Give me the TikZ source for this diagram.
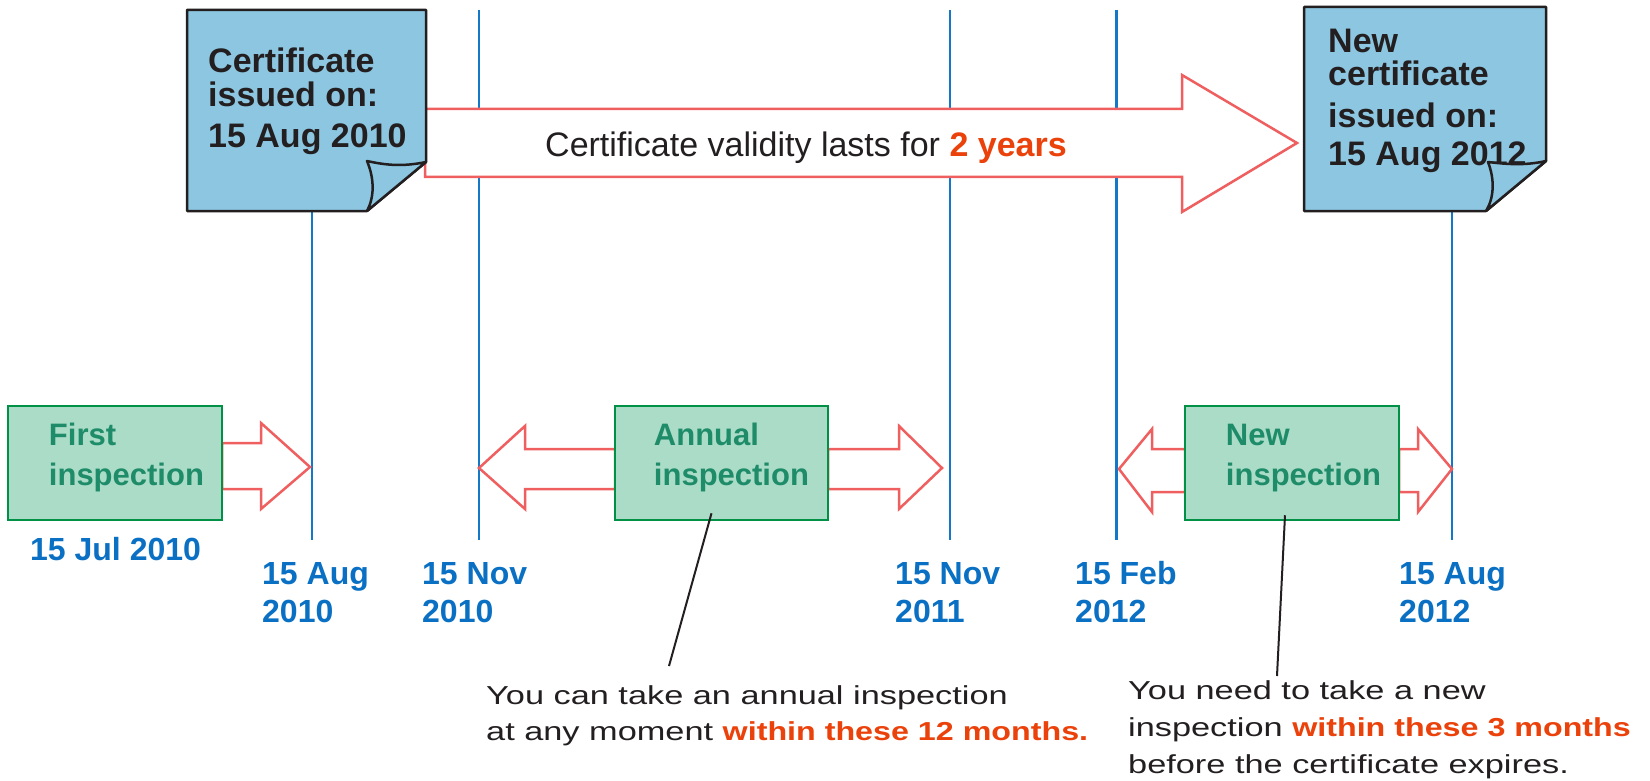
\documentclass[tikz,border=0pt]{standalone}
\usepackage{fontspec}
\usepackage{xcolor}
\usepackage{tikz}
\setmainfont{Liberation Sans}
\newfontfamily\widefont[FakeStretch=1.32]{Liberation Sans}
\newfontfamily\widebold[FakeStretch=1.24]{Liberation Sans}

\definecolor{noteblue}{RGB}{140,198,225}
\definecolor{inkblack}{RGB}{35,31,32}
\definecolor{arrowred}{RGB}{240,95,95}
\definecolor{lineblue}{RGB}{20,120,200}
\definecolor{dateblue}{RGB}{10,112,195}
\definecolor{boxgreen}{RGB}{0,145,70}
\definecolor{boxfill}{RGB}{170,220,200}
\definecolor{textgreen}{RGB}{30,140,105}
\definecolor{hotorange}{RGB}{235,65,10}

\begin{document}
\begin{tikzpicture}[x=1pt, y=-1pt,
    note/.style={draw=inkblack, line width=2.5pt, fill=noteblue, line join=round},
    blockarrow/.style={draw=arrowred, line width=2.5pt, fill=white, line join=miter},
    timeline/.style={draw=lineblue, line width=2.2pt},
    inspbox/.style={draw=boxgreen, line width=2.5pt, fill=boxfill, minimum height=114pt},
    insptext/.style={text=textgreen, font=\fontsize{31}{40}\selectfont\bfseries, align=left, anchor=base west, inner sep=0pt},
    notetext/.style={text=inkblack, font=\fontsize{34}{34}\selectfont\bfseries, align=left, anchor=base west, inner sep=0pt},
    datelabel/.style={text=dateblue, font=\fontsize{32}{38}\selectfont\bfseries, align=left, anchor=base west, inner sep=0pt},
    remark/.style={text=inkblack, font=\widefont\fontsize{26}{36}\selectfont, align=left, anchor=base west, inner sep=0pt},
    pointer/.style={draw=inkblack, line width=2pt}]
    \useasboundingbox (0,0) rectangle (1650,781);

    % Time lines
    \draw[timeline] (312,211) -- (312,540);
    \draw[timeline] (479,10) -- (479,540);
    \draw[timeline] (950,10) -- (950,540);
    \draw[timeline] (1116.5,10) -- (1116.5,540);
    \draw[timeline] (1452,211) -- (1452,540);

    % Validity arrow
    \draw[blockarrow] (425,109) -- (1182,109) -- (1182,75) -- (1297,143) -- (1182,212) -- (1182,177) -- (425,177) -- cycle;
    \node[text=inkblack, font=\fontsize{34}{40}\selectfont, anchor=base west, inner sep=0pt] (validity) at (545,157)
        {Certificate validity lasts for \textcolor{hotorange}{\bfseries 2 years}};

    % Old certificate note
    \draw[note] (187,10) -- (426,10) -- (426,162) -- (367,211) -- (187,211) -- cycle;
    \node[notetext] (oldcert) at (208,148) {Certificate\\issued on:\\[7pt]15 Aug 2010};
    \draw[note] (426,162) .. controls (402,167) and (385,165) .. (367,161) .. controls (375,180) and (374,198) .. (367,211) -- cycle;

    % New certificate note
    \draw[note] (1304,7) -- (1546,7) -- (1546,161) -- (1486,211) -- (1304,211) -- cycle;
    \node[notetext, font=\fontsize{34}{33}\selectfont\bfseries] (newcert) at (1328,165) {New\\certificate\\[10pt]issued on:\\[4pt]15 Aug 2012};
    \draw[note] (1546,161) .. controls (1524,166) and (1505,164) .. (1488,162) .. controls (1495,180) and (1494,198) .. (1486,211) -- cycle;

    % Inspection arrows
    \draw[blockarrow] (222,443) -- (261,443) -- (261,423) -- (310,467) -- (261,509) -- (261,489) -- (222,489) -- cycle;
    \draw[blockarrow] (615,449) -- (525,449) -- (525,426) -- (479,468) -- (525,509) -- (525,489) -- (615,489) -- cycle;
    \draw[blockarrow] (828,449) -- (899,449) -- (899,426) -- (942,468) -- (899,509) -- (899,489) -- (828,489) -- cycle;
    \draw[blockarrow] (1185,449) -- (1152,449) -- (1152,429) -- (1119,469) -- (1152,512) -- (1152,492) -- (1185,492) -- cycle;
    \draw[blockarrow] (1399,449) -- (1418,449) -- (1418,429) -- (1452,469) -- (1418,512) -- (1418,492) -- (1399,492) -- cycle;

    % Inspection boxes
    \node[inspbox, minimum width=214pt] (first) at (115,463) {};
    \node[inspbox, minimum width=213pt] (annual) at (721.5,463) {};
    \node[inspbox, minimum width=214pt] (renew) at (1292,463) {};
    \node[insptext] at ([shift={(42,81)}]first.north west) {First\\inspection};
    \node[insptext] at ([shift={(40,81)}]annual.north west) {Annual\\inspection};
    \node[insptext] at ([shift={(42,81)}]renew.north west) {New\\inspection};

    % Dates
    \node[datelabel] (jul10) at (30,560) {15 Jul 2010};
    \node[datelabel] (aug10) at (262,622) {15 Aug\\2010};
    \node[datelabel] (nov10) at (422,622) {15 Nov\\2010};
    \node[datelabel] (nov11) at (895,622) {15 Nov\\2011};
    \node[datelabel] (feb12) at (1075,622) {15 Feb\\2012};
    \node[datelabel] (aug12) at (1399,622) {15 Aug\\2012};

    % Remarks
    \node[remark] (annualnote) at (486,740)
        {You can take an annual inspection\\at any moment \textcolor{hotorange}{\widebold\bfseries within these 12 months.}};
    \node[remark, font=\widefont\fontsize{26}{37}\selectfont] (renewnote) at (1128,773)
        {You need to take a new\\inspection \textcolor{hotorange}{\widebold\bfseries within these 3 months}\\before the certificate expires.};
    \coordinate (annualend) at (669,666);
    \coordinate (renewend) at (1277,676);
    \draw[pointer] ([shift={(-10,-8)}]annual.south) -- (annualend);
    \draw[pointer] ([shift={(-7,-6)}]renew.south) -- (renewend);

\end{tikzpicture}
\end{document}
